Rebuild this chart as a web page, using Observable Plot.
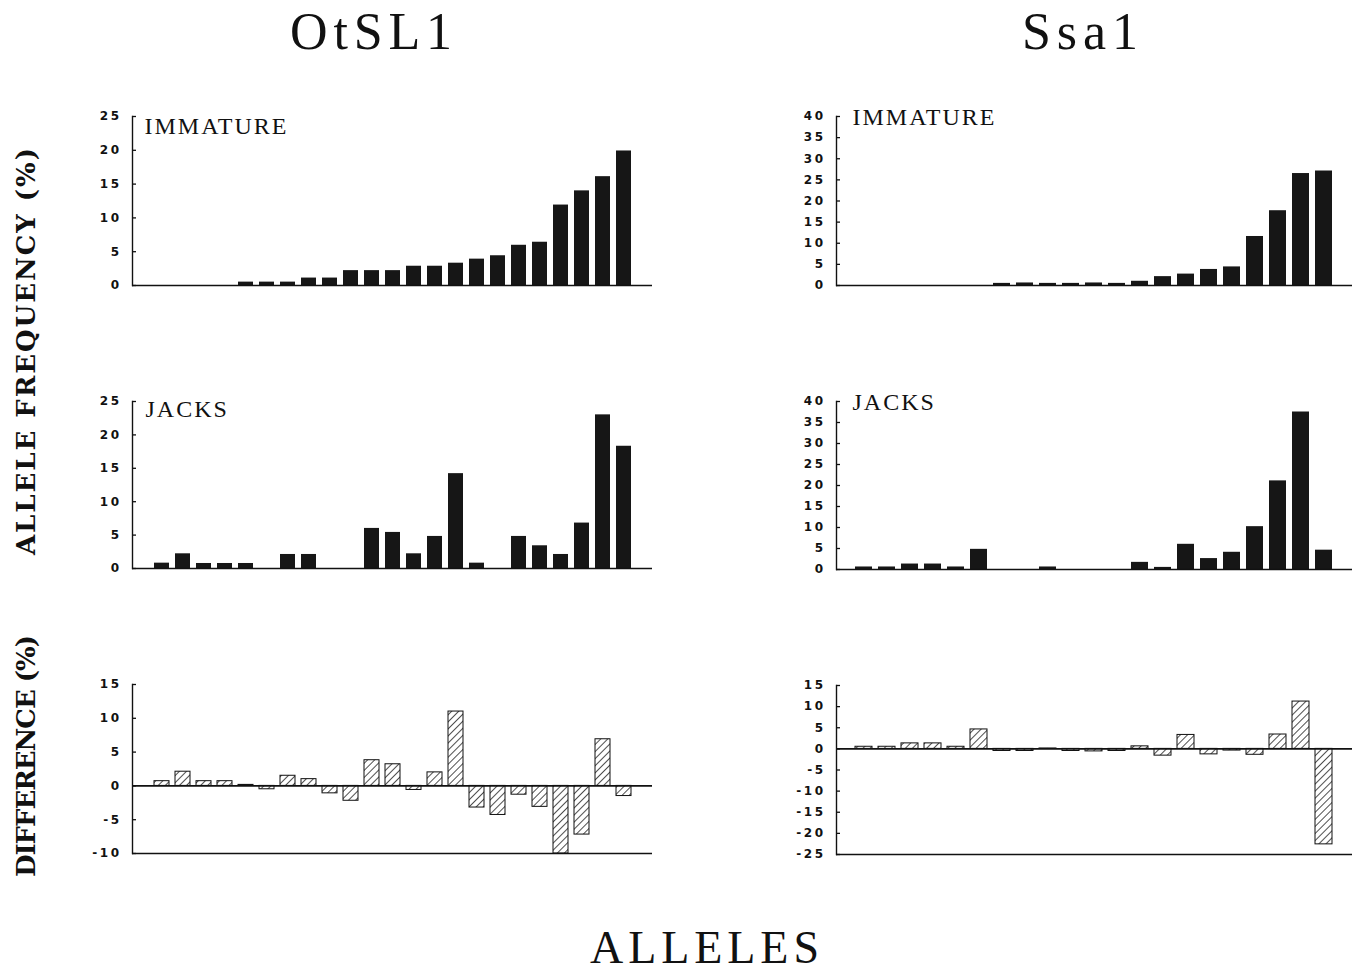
<!DOCTYPE html>
<html><head><meta charset="utf-8">
<script src="https://cdn.jsdelivr.net/npm/d3@7"></script>
<script src="https://cdn.jsdelivr.net/npm/@observablehq/plot@0.6"></script>
<style>
body{margin:0;background:#fff;}
#wrap{position:relative;width:1364px;height:974px;overflow:hidden;background:#fff;}
#wrap svg.pnl{position:absolute;}
</style></head><body>
<svg width="0" height="0" style="position:absolute">
  <defs>
    <pattern id="hatch" patternUnits="userSpaceOnUse" width="5" height="5" patternTransform="rotate(45)">
      <rect width="5" height="5" fill="#fff"/>
      <line x1="2.5" y1="0" x2="2.5" y2="5" stroke="#222" stroke-width="0.8"/>
    </pattern>
  </defs>
</svg>
<div id="wrap"></div>
<script>
// ---- data ----
const otsl1Alleles = ["1","2","3","4","5","6","7","8","9","10","11","12","13","14","15","16","17","18","19","20","21","22","23"];
const otsl1Immature = [0,0,0,0,0.5,0.5,0.5,1.1,1.1,2.2,2.2,2.2,2.85,2.85,3.3,3.9,4.4,5.95,6.4,11.9,14.0,16.1,19.9];
const otsl1Jacks    = [0.8,2.2,0.75,0.75,0.75,0,2.1,2.1,0,0,6.0,5.4,2.2,4.8,14.2,0.8,0,4.8,3.4,2.1,6.8,23.0,18.3];
const otsl1Diff     = [0.7,2.1,0.7,0.7,0.15,-0.5,1.5,1.0,-1.1,-2.2,3.8,3.2,-0.6,2.0,11.0,-3.2,-4.3,-1.3,-3.1,-10.0,-7.2,6.9,-1.5];

const ssa1Alleles = ["1","2","3","4","5","6","7","8","9","10","11","12","13","14","15","16","17","18","19","20","21"];
const ssa1Immature = [0,0,0,0,0,0,0.5,0.6,0.5,0.5,0.6,0.5,1.0,2.1,2.7,3.8,4.4,11.6,17.7,26.5,27.1];
const ssa1Jacks    = [0.6,0.6,1.3,1.3,0.6,4.8,0,0,0.6,0,0,0,1.7,0.5,6.0,2.6,4.1,10.2,21.1,37.5,4.6];
const ssa1Diff     = [0.5,0.5,1.3,1.3,0.5,4.6,-0.5,-0.5,0.1,-0.5,-0.6,-0.5,0.6,-1.6,3.3,-1.3,-0.4,-1.4,3.4,11.2,-22.6];

const otsl1FreqTicks = [0,5,10,15,20,25];
const otsl1DiffTicks = [-10,-5,0,5,10,15];
const ssa1FreqTicks = [0,5,10,15,20,25,30,35,40];
const ssa1DiffTicks = [-25,-20,-15,-10,-5,0,5,10,15];

const titles = {left: "OtSL1", right: "Ssa1", x: "ALLELES", yFreq: "ALLELE FREQUENCY (%)", yDiff: "DIFFERENCE (%)"};

const wrap = document.getElementById("wrap");
const fmt = d => d < 0 ? "-" + Math.abs(d) : String(d);

function panel(o) {
  const rows = o.values.map((v, i) => ({a: o.alleles[i], v})).filter(d => d.v !== 0);
  const marks = [
    Plot.barY(rows, {
      x: "a", y1: 0, y2: "v",
      fill: o.hatched ? "url(#hatch)" : "#161616",
      stroke: o.hatched ? "#111" : "none",
      strokeWidth: 1
    }),
    Plot.ruleY([0], {stroke: "#111", strokeWidth: 1.6}),
    Plot.axisY({ticks: o.ticks, tickSize: 0, tickPadding: 11, tickFormat: fmt, label: null,
      fontSize: 12, fontWeight: "bold", fontFamily: "DejaVu Sans"}),
    Plot.axisY({ticks: o.ticks, tickSize: 4, dx: 4, tickFormat: () => "", label: null, strokeWidth: 1.3}),
    Plot.frame({anchor: "left", stroke: "#111", strokeWidth: 1.4})
  ];
  if (o.bottomRule) marks.push(Plot.ruleY([o.domain[0]], {stroke: "#111", strokeWidth: 1.6}));
  if (o.label) marks.push(Plot.text([o.label], {
    frameAnchor: "top-left", dx: o.ldx, dy: o.ldy, textAnchor: "start", lineAnchor: "middle",
    fontSize: 24, fontFamily: "Liberation Serif", fill: "#111"
  }));
  const svg = Plot.plot({
    width: o.width, height: o.height,
    marginLeft: o.ml, marginRight: o.mr, marginTop: o.mt, marginBottom: o.mb,
    x: {domain: o.alleles, paddingInner: o.pi, paddingOuter: o.po, axis: null},
    y: {domain: o.domain},
    style: {background: "transparent", color: "#111", letterSpacing: "2.5px", overflow: "visible"},
    marks
  });
  svg.classList.add("pnl");
  svg.style.left = o.left + "px";
  svg.style.top = o.top + "px";
  svg.style.position = "absolute";
  if (o.label) {
    svg.querySelectorAll("text").forEach(t => { if (t.textContent === o.label) t.style.letterSpacing = "2px"; });
  }
  wrap.appendChild(svg);
}

// Left column (OtSL1): frame x 132..652
const L = {alleles: otsl1Alleles, left: 60, width: 600, ml: 72, mr: 8, pi: 0.3, po: 0.8};
panel({...L, values: otsl1Immature, domain: [0, 25], ticks: otsl1FreqTicks, top: 100, height: 200, mt: 16, mb: 15, label: "IMMATURE", ldx: 12, ldy: 10});
panel({...L, values: otsl1Jacks, domain: [0, 25], ticks: otsl1FreqTicks, top: 385, height: 200, mt: 16, mb: 17, label: "JACKS", ldx: 13, ldy: 8});
panel({...L, values: otsl1Diff, domain: [-10, 15], ticks: otsl1DiffTicks, top: 668, height: 200, mt: 16, mb: 15, hatched: true, bottomRule: true});

// Right column (Ssa1): frame x 836..1352
const R = {alleles: ssa1Alleles, left: 770, width: 594, ml: 66, mr: 12, pi: 0.26, po: 0.62};
panel({...R, values: ssa1Immature, domain: [0, 40], ticks: ssa1FreqTicks, top: 100, height: 200, mt: 16, mb: 15, label: "IMMATURE", ldx: 16, ldy: 1});
panel({...R, values: ssa1Jacks, domain: [0, 40], ticks: ssa1FreqTicks, top: 385, height: 200, mt: 16, mb: 16, label: "JACKS", ldx: 16, ldy: 1});
panel({...R, values: ssa1Diff, domain: [-25, 15], ticks: ssa1DiffTicks, top: 668, height: 200, mt: 17, mb: 14, hatched: true, bottomRule: true});

// Titles overlay
const ns = "http://www.w3.org/2000/svg";
const ov = document.createElementNS(ns, "svg");
ov.setAttribute("width", 1364); ov.setAttribute("height", 974);
ov.style.position = "absolute"; ov.style.left = "0"; ov.style.top = "0"; ov.style.pointerEvents = "none";
function addText(str, attrs) {
  const t = document.createElementNS(ns, "text");
  for (const k in attrs) t.setAttribute(k, attrs[k]);
  t.textContent = str;
  ov.appendChild(t);
}
addText(titles.left, {x: 290, y: 49, "font-family": "Liberation Serif", "font-size": 52, fill: "#111", textLength: 162, lengthAdjust: "spacing"});
addText(titles.right, {x: 1022, y: 49, "font-family": "Liberation Serif", "font-size": 52, fill: "#111", textLength: 116, lengthAdjust: "spacing"});
addText(titles.x, {x: 590, y: 963, "font-family": "Liberation Serif", "font-size": 46, fill: "#111", textLength: 229, lengthAdjust: "spacing"});
addText(titles.yFreq, {x: 0, y: 0, transform: "translate(35,555) rotate(-90)", "font-family": "DejaVu Serif", "font-weight": "bold", "font-size": 26, fill: "#111", textLength: 407, lengthAdjust: "spacing"});
addText(titles.yDiff, {x: 0, y: 0, transform: "translate(35,877) rotate(-90)", "font-family": "DejaVu Serif", "font-weight": "bold", "font-size": 26, fill: "#111", textLength: 242, lengthAdjust: "spacing"});
wrap.appendChild(ov);
</script>
</body></html>
